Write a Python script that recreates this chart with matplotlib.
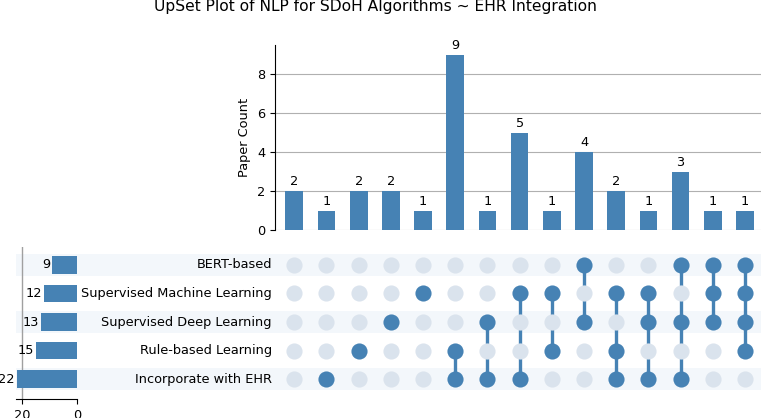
import numpy as np
import matplotlib
matplotlib.use("Agg")
import matplotlib.pyplot as plt

# categories, bottom row first
categories = ["Incorporate with EHR", "Rule-based Learning", "Supervised Deep Learning",
              "Supervised Machine Learning", "BERT-based"]
totals = [22, 15, 13, 12, 9]

# intersections, left to right (members given as category indices)
members = [[], [0], [1], [2], [3], [0, 1], [0, 2], [0, 3], [1, 3], [2, 4],
           [0, 1, 3], [0, 2, 3], [0, 2, 4], [2, 3, 4], [1, 2, 3, 4]]
counts = [2, 1, 2, 2, 1, 9, 1, 5, 1, 4, 2, 1, 3, 1, 1]

BLUE = "#4682b4"
LIGHT = "#dae3ed"
SHADE = "#f3f7fb"
FS = 9.3
W, H = 761, 418

plt.rcParams["font.size"] = FS
fig = plt.figure(figsize=(W / 100, H / 100), dpi=100)


def px_axes(x0, y0, x1, y1, **kw):
    return fig.add_axes([x0 / W, 1 - y1 / H, (x1 - x0) / W, (y1 - y0) / H], **kw)


n = len(counts)
xs = np.arange(n)
ylim = (-0.7, 4.63)

# row shading behind everything
ax_bg = px_axes(16, 247, 761, 399, zorder=-1)
ax_bg.set_xlim(0, 1)
ax_bg.set_ylim(*ylim)
ax_bg.axis("off")
for i in range(0, len(categories), 2):
    ax_bg.axhspan(i - 0.4, i + 0.4, color=SHADE, lw=0)

ax_bar = px_axes(275, 45, 761, 230)
ax_mat = px_axes(275, 247, 761, 399)
ax_tot = px_axes(16, 247, 77, 399)

# intersection bars
ax_bar.bar(xs, counts, width=0.55, color=BLUE, zorder=3)
for x, c in zip(xs, counts):
    ax_bar.annotate(str(c), (x, c), xytext=(0, 2), textcoords="offset points",
                    ha="center", va="bottom", fontsize=FS)
ax_bar.set_xlim(-0.6, n - 0.5)
ax_bar.set_ylim(0, 9.5)
ax_bar.set_yticks([0, 2, 4, 6, 8])
ax_bar.set_xticks([])
ax_bar.set_ylabel("Paper Count", fontsize=FS)
ax_bar.grid(axis="y", color="#b0b0b0", lw=0.8, zorder=0)
for s in ["top", "right", "bottom"]:
    ax_bar.spines[s].set_visible(False)

# matrix
ax_mat.set_xlim(-0.6, n - 0.5)
ax_mat.set_ylim(*ylim)
ax_mat.axis("off")
for x, m in zip(xs, members):
    for r in range(len(categories)):
        ax_mat.scatter(x, r, s=135, color=BLUE if r in m else LIGHT, zorder=3, lw=0)
    if len(m) > 1:
        ax_mat.plot([x, x], [min(m), max(m)], color=BLUE, lw=2.4, zorder=2)
for r, name in enumerate(categories):
    ax_mat.text(-0.7, r, name, ha="right", va="center", fontsize=FS)

# totals
ax_tot.axvline(20, color="#a0a0a0", lw=1.0, zorder=1)
ax_tot.barh(range(len(categories)), totals, height=0.6, color=BLUE, zorder=3)
for r, t in enumerate(totals):
    ax_tot.annotate(str(t), (t, r), xytext=(-1.5, 0), textcoords="offset points",
                    ha="right", va="center", fontsize=FS)
ax_tot.set_xlim(22.2, 0)
ax_tot.set_ylim(*ylim)
ax_tot.set_xticks([20, 0])
ax_tot.set_yticks([])
ax_tot.patch.set_visible(False)
for s in ["top", "right", "left"]:
    ax_tot.spines[s].set_visible(False)

fig.text(376 / W, 1 - 7 / H, "UpSet Plot of NLP for SDoH Algorithms ~ EHR Integration",
         ha="center", va="center", fontsize=11.2)

fig.savefig("out.png", dpi=100)
